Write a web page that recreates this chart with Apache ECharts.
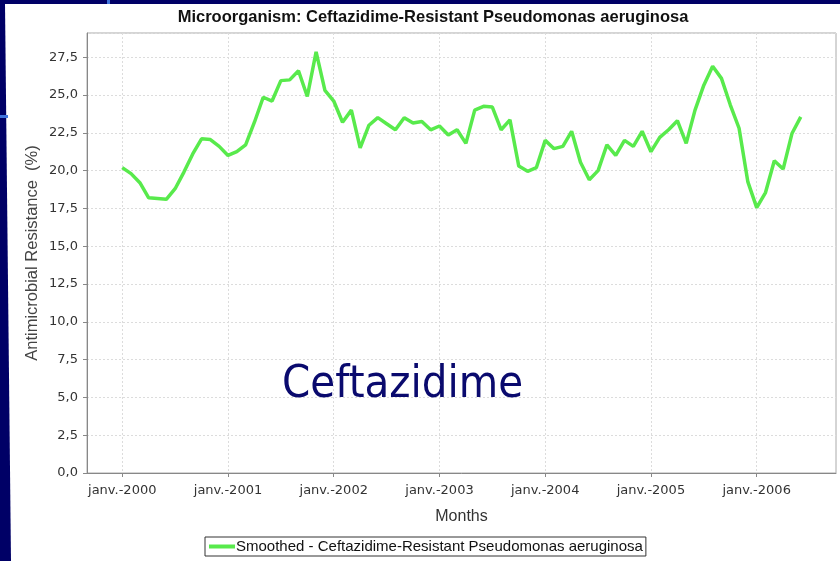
<!DOCTYPE html>
<html>
<head>
<meta charset="utf-8">
<script src="https://cdn.jsdelivr.net/npm/echarts@6/dist/echarts.min.js"></script>
<style>
  html, body { margin: 0; padding: 0; background: #000066; }
  #chart { width: 840px; height: 561px; }
</style>
</head>
<body>
<div id="chart"></div>
<script>
// French month names as on the axis
const monthNames = ['janv.', 'févr.', 'mars', 'avr.', 'mai', 'juin', 'juil.', 'août', 'sept.', 'oct.', 'nov.', 'déc.']
// axis runs sept.-1999 .. sept.-2006, data janv.-2000 .. juin-2006
const padBefore = 4
const padAfter = 4
// smoothed resistance (%), one value per month from janv.-2000
const resistance = [
  20.2, 19.8, 19.2, 18.2, 18.15, 18.1, 18.8, 19.9, 21.1, 22.1, 22.05, 21.6,
  21.0, 21.25, 21.7, 23.2, 24.85, 24.6, 25.95, 26.0, 26.6, 24.9, 27.85, 25.3,
  24.6, 23.2, 24.0, 21.5, 23.0, 23.5, 23.1, 22.7, 23.5, 23.15, 23.25, 22.7,
  22.95, 22.35, 22.7, 21.8, 24.0, 24.25, 24.2, 22.7, 23.35, 20.3, 19.95, 20.2,
  22.0, 21.45, 21.6, 22.6, 20.55, 19.4, 20.0, 21.7, 21.0, 22.0, 21.6, 22.6,
  21.25, 22.2, 22.7, 23.3, 21.8, 24.0, 25.65, 26.9, 26.1, 24.35, 22.8, 19.25,
  17.55, 18.55, 20.65, 20.1, 22.45, 23.55
]
const seriesName = 'Smoothed - Ceftazidime-Resistant Pseudomonas aeruginosa'

// build category labels
const months = []
for (let i = -padBefore; i < resistance.length + padAfter; i++) {
  const y = 2000 + Math.floor(i / 12)
  const m = ((i % 12) + 12) % 12
  months.push(monthNames[m] + '-' + y)
}
const values = []
for (let i = 0; i < padBefore; i++) values.push('-')
resistance.forEach(v => values.push(v))
for (let i = 0; i < padAfter; i++) values.push('-')

const isJan = (idx, val) => String(val).indexOf('janv.') === 0

const myChart = echarts.init(document.getElementById('chart'))
const option = {
  backgroundColor: '#000066',
  animation: false,
  graphic: [
    // white slide area
    { type: 'polygon', z: -10, shape: { points: [[5, 4], [840, 4], [840, 561], [11, 561]] }, style: { fill: '#ffffff' } },
    { type: 'rect', z: -9, shape: { x: 0, y: 115, width: 8, height: 3 }, style: { fill: '#3f74dc' } },
    { type: 'rect', z: -9, shape: { x: 107, y: 0, width: 3, height: 4 }, style: { fill: '#3f74dc' } },
    {
      type: 'text', left: 282, top: 363, z: 10,
      style: {
        text: 'Ceftazidime',
        font: '45px "DejaVu Sans Condensed", "Noto Sans", sans-serif',
        fill: '#0a0a6e'
      }
    }
  ],
  title: {
    text: 'Microorganism: Ceftazidime-Resistant Pseudomonas aeruginosa',
    left: 428, top: 4, textAlign: 'center',
    textStyle: { fontFamily: 'Liberation Sans', fontSize: 16.5, fontWeight: 'bold', color: '#111' }
  },
  legend: {
    data: [seriesName],
    left: 205, top: 537,
    padding: [2, 3, 2, 2],
    borderColor: '#333', borderWidth: 1, borderRadius: 0,
    itemWidth: 26, itemHeight: 4, itemGap: 2,
    lineStyle: { width: 4 },
    textStyle: { fontFamily: 'Liberation Sans', fontSize: 15, color: '#111', padding: [0, 0, 0, -4] }
  },
  grid: {
    left: 87, right: 4, top: 33, bottom: 88,
    show: true, borderColor: '#aaaaaa', borderWidth: 1
  },
  xAxis: {
    type: 'category',
    data: months,
    boundaryGap: false,
    name: 'Months',
    nameLocation: 'middle',
    nameGap: 36,
    nameTextStyle: { fontFamily: 'Liberation Sans', fontSize: 16, color: '#333' },
    axisLine: { lineStyle: { color: '#888' } },
    axisTick: { show: true, interval: isJan, length: 4, lineStyle: { color: '#888' } },
    axisLabel: {
      interval: isJan, margin: 11,
      fontFamily: 'DejaVu Sans', fontSize: 13, color: '#333'
    },
    splitLine: { show: true, interval: isJan, lineStyle: { color: '#dcdcdc', type: [2, 2] } }
  },
  yAxis: {
    type: 'value',
    min: 0, max: 29.1, interval: 2.5,
    name: 'Antimicrobial Resistance  (%)',
    nameLocation: 'middle',
    nameGap: 46,
    nameMoveOverlap: false,
    nameTextStyle: { fontFamily: 'Liberation Sans', fontSize: 16.5, color: '#444' },
    axisLine: { show: true, lineStyle: { color: '#888' } },
    axisTick: { show: true, length: 4, lineStyle: { color: '#888' } },
    axisLabel: {
      showMaxLabel: false, margin: 9,
      fontFamily: 'DejaVu Sans', fontSize: 13, color: '#333',
      formatter: v => v.toFixed(1).replace('.', ',')
    },
    splitLine: { show: true, lineStyle: { color: '#dcdcdc', type: [2, 2] } }
  },
  series: [{
    name: seriesName,
    type: 'line',
    data: values,
    symbol: 'none',
    lineStyle: { color: '#58ea4c', width: 3.5 },
    itemStyle: { color: '#58ea4c' }
  }]
}
myChart.setOption(option, true)
</script>
</body>
</html>
